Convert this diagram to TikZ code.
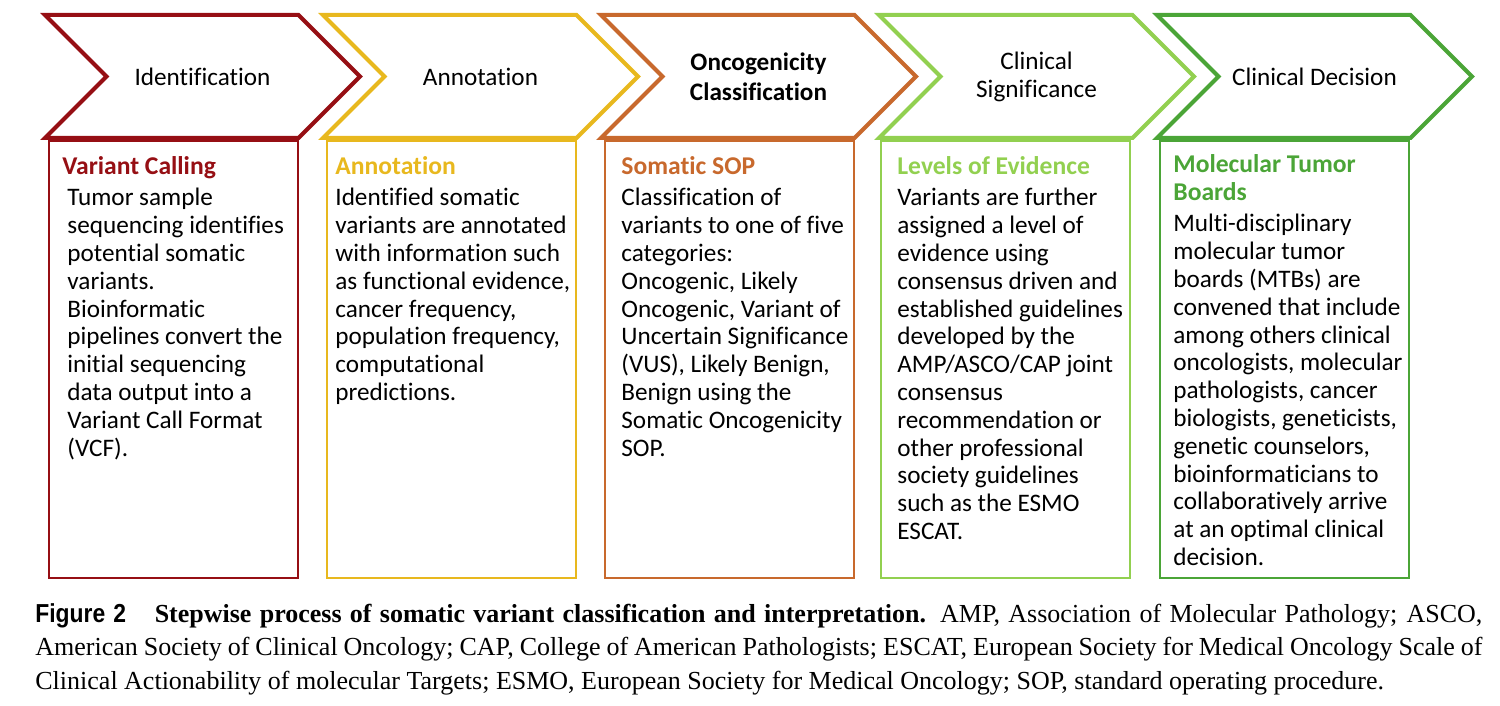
\documentclass[tikz,border=0pt]{standalone}
\usepackage{fontspec}
\setmainfont[Ligatures={NoCommon}]{Carlito}
\newfontfamily\capserif{Liberation Serif}
\newfontfamily\capsans[FakeStretch=0.88]{Liberation Sans}
\usepackage{tikz}
\usetikzlibrary{shapes.symbols, positioning}
\definecolor{vcred}{RGB}{150,15,20}
\definecolor{anyellow}{RGB}{232,184,30}
\definecolor{soorange}{RGB}{200,105,45}
\definecolor{lelime}{RGB}{146,208,80}
\definecolor{mtgreen}{RGB}{75,165,55}
\tikzset{
  chev/.style={signal, signal from=west, signal to=east, draw=#1,
    line width=2pt, minimum width=157.5pt, minimum height=61.5pt,
    inner sep=0pt, align=center, font=\fontsize{12.6}{14}\selectfont},
  card/.style={rectangle, draw=#1, line width=0.8pt, anchor=north west,
    minimum width=124.5pt, minimum height=218.5pt, inner sep=0pt},
  cardhead/.style={anchor=north west, inner sep=0pt, align=left, text=#1,
    font=\fontsize{12.8}{14}\selectfont\bfseries},
  cardbody/.style={anchor=north west, inner sep=0pt, align=left,
    font=\fontsize{12.6}{13.9}\selectfont}
}

\begin{document}
\begin{tikzpicture}[x=0.5pt, y=-0.5pt]
  \useasboundingbox (0,0) rectangle (1500,706);

  % Process steps (chevrons)
  \node[chev=vcred] (ident) at (202.5,76.5) {Identification};
  \node[chev=anyellow] (annot) at (480.5,76.5) {Annotation};
  \node[chev=soorange, font=\fontsize{12.6}{15}\selectfont\bfseries] (onco) at (758.5,76.5) {Oncogenicity\\Classification};
  \node[chev=lelime] (clinsig) at (1036.5,76.5) {Clinical\\Significance};
  \node[chev=mtgreen] (clindec) at (1314.5,76.5) {Clinical Decision};

  % Description cards
  \node[card=vcred] (callbox) at (48,140) {};
  \node[card=anyellow] (annotbox) at (326,140) {};
  \node[card=soorange] (sopbox) at (604,140) {};
  \node[card=lelime] (evidbox) at (880,140) {};
  \node[card=mtgreen] (mtbbox) at (1159,140) {};

  % Card 1: variant calling
  \node[cardhead=vcred] (callhead) at (62,156) {Variant Calling};
  \node[cardbody] (calltext) at (67,188) {Tumor sample\\sequencing identifies\\potential somatic\\variants.\\Bioinformatic\\pipelines convert the\\initial sequencing\\data output into a\\Variant Call Format\\(VCF).};

  % Card 2: annotation
  \node[cardhead=anyellow] (annothead) at (335,156) {Annotation};
  \node[cardbody] (annottext) at (335,188) {Identified somatic\\variants are annotated\\with information such\\as functional evidence,\\cancer frequency,\\population frequency,\\computational\\predictions.};

  % Card 3: somatic SOP
  \node[cardhead=soorange] (sophead) at (621,156) {Somatic SOP};
  \node[cardbody] (soptext) at (621,188) {Classification of\\variants to one of five\\categories:\\Oncogenic, Likely\\Oncogenic, Variant of\\Uncertain Significance\\(VUS), Likely Benign,\\Benign using the\\Somatic Oncogenicity\\SOP.};

  % Card 4: levels of evidence
  \node[cardhead=lelime] (evidhead) at (897,156) {Levels of Evidence};
  \node[cardbody] (evidtext) at (897,188) {Variants are further\\assigned a level of\\evidence using\\consensus driven and\\established guidelines\\developed by the\\AMP/ASCO/CAP joint\\consensus\\recommendation or\\other professional\\society guidelines\\such as the ESMO\\ESCAT.};

  % Card 5: molecular tumor boards
  \node[cardhead=mtgreen] (mtbhead) at (1173,154) {Molecular Tumor\\Boards};
  \node[cardbody] (mtbtext) at (1173,214) {Multi-disciplinary\\molecular tumor\\boards (MTBs) are\\convened that include\\among others clinical\\oncologists, molecular\\pathologists, cancer\\biologists, geneticists,\\genetic counselors,\\bioinformaticians to\\collaboratively arrive\\at an optimal clinical\\decision.};

  % Figure caption
  \node[anchor=north west, inner sep=0pt, text width=723.5pt, align=justify,
    font=\capserif\fontsize{13}{16.75}\selectfont] (caption) at (35,603) {{\capsans\bfseries Figure 2}\hspace{1.1em}{\bfseries Stepwise process of somatic variant classification and interpretation.} AMP, Association of Molecular Pathology; ASCO,\linebreak American Society of Clinical Oncology; CAP, College of American Pathologists; ESCAT, European Society for Medical Oncology Scale of\linebreak Clinical Actionability of molecular Targets; ESMO, European Society for Medical Oncology; SOP, standard operating procedure.};
\end{tikzpicture}
\end{document}
